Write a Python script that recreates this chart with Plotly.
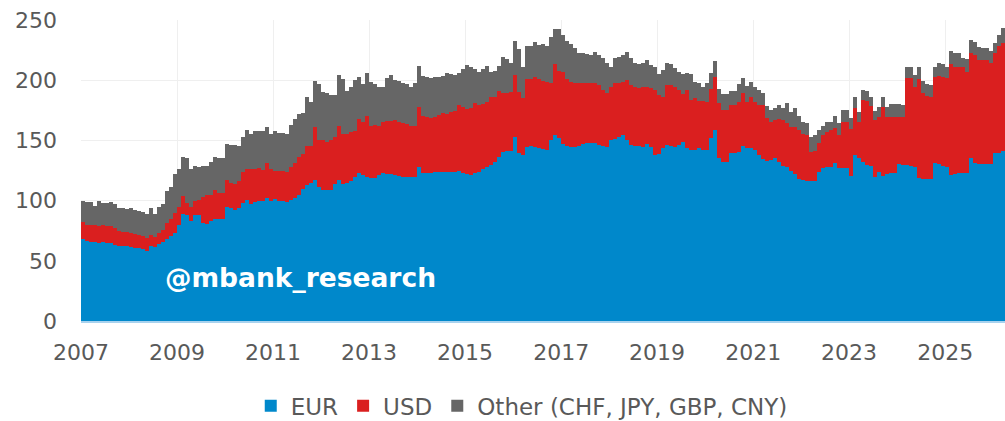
import pandas as pd
import plotly.graph_objects as go

# Monthly stock by currency, January 2007 - March 2026
START = "2007-01-01"

EUR = [
    67.8, 66.5, 66, 65.5, 65, 65.5, 65, 64.5, 63, 62.5, 62, 62, 61.5, 61, 61, 59.7, 58.3, 62, 61.5, 63.7,
    66, 68, 70.5, 73, 79.8, 88.9, 88, 83, 88, 88, 81.8, 80.7, 83, 85, 85, 85, 95, 93.6, 92,
    93.6, 97.8, 100.5, 97, 99, 100, 100, 102, 100, 101, 100, 100, 99, 100.5, 102.5, 105, 110, 113, 114.5, 117,
    111.5, 109, 108.6, 109, 114, 117.5, 114, 114.5, 116, 119.4, 123, 121.5, 119.4, 118.6, 118.6, 121.5, 123, 122, 122,
    121.4, 120.5, 120, 120, 120, 120, 128, 123.3, 122.7, 123.3, 123.8, 124, 124, 124, 124, 124, 124.9, 123.3, 122.2, 121.4,
    122.7, 124, 126, 128.2, 129.6, 132.4, 136.5, 140.7, 141.5, 141.5, 153, 139.8, 137.9, 144.9, 145.4, 144.9, 143.5, 142.7, 142.2,
    150.2, 154.4, 152.4, 146.9, 145.4, 144.9, 144.9, 145.4, 146.9, 147.5, 148, 147.5, 146, 145.4, 144.9, 150.2, 151.5, 152.9, 154.3, 150.7,
    146, 145.4, 145.4, 144.9, 146.9, 144.4, 138, 138.7, 143.6, 146, 145.4, 144.9, 146, 148.8, 143.6, 142.2, 142.2, 143.6, 142.2,
    142, 151.7, 158.7, 135.1, 132.3, 132.3, 139.3, 139.3, 140.7, 145.4, 143.4, 143.4, 142, 137.9, 134.3, 133.2, 133.8, 135.1, 132.3, 128.7,
    127.6, 124.9, 122.1, 117.7, 117.2, 116.6, 116.6, 116.6, 124, 126.8, 127.6, 128.2, 130.9, 126.8, 126.8, 126.8, 120.5, 137.9, 135.1,
    132.4, 129.6, 128.8, 120, 124.1, 120.5, 122.2, 122.7, 122.7, 130.2, 129.6, 129.6, 128.8, 128.2, 118.6, 117.7, 117.7, 117.7,
    131, 130.4, 128.8, 128.2, 121.4, 122.2, 122.7, 122.7, 122.7, 135.2, 131.6, 130.4, 130.4, 130.4, 130.4, 139.3, 139.8, 141.5,
]

USD = [
    14.7, 13.5, 13.5, 14, 14, 14, 14, 14, 14, 12, 12, 12, 12, 11, 10.5, 11.3, 10.4, 9.5, 8.5, 9.2,
    9.7, 13, 14.5, 17, 14.9, 14.9, 10, 11.6, 12, 12.6, 21, 24.3, 22, 24, 21, 21, 22, 21.4, 22,
    22.4, 26.2, 25.5, 29, 27, 27, 25.5, 29, 26, 24, 25, 24.5, 25, 27.5, 28.5, 31.5, 29, 32.4, 30.5, 44,
    38.5, 41, 40.4, 41, 39, 44.5, 41, 40.5, 41, 38.6, 44.6, 43.5, 50.6, 43.4, 44.4, 40.5, 42, 44, 44,
    45.5, 45, 44.2, 43.6, 42, 42, 49.6, 47, 47, 45.7, 45.9, 47, 48.5, 48, 50, 50.8, 54.6, 54.3, 53.8, 55.4,
    58.7, 55.5, 54.3, 54, 56.2, 53.4, 54.9, 48.3, 48.2, 49.1, 51.4, 50.8, 47.1, 55.9, 55.4, 58.1, 57.3, 56.9, 56.6,
    47.8, 58.8, 55.6, 60.1, 55.4, 53.9, 52.6, 52.1, 51.1, 50, 50, 50, 50, 46.6, 44.8, 44.5, 46, 44.6, 44.5, 49.3,
    50, 48.6, 47.9, 49.1, 47.8, 48.9, 54, 49.2, 42.4, 50, 50.6, 49.8, 46, 39.9, 48.4, 41.6, 43, 38.8, 40.2,
    40.2, 40.8, 44.3, 45.7, 43, 43, 40.2, 40.2, 41.5, 43.8, 38.8, 42.4, 40.2, 41.6, 45.2, 35.2, 31.8, 31.9, 35.3, 38.3,
    37.2, 36.6, 38.8, 41, 38.2, 38, 24.1, 24.9, 24.2, 27.8, 29.7, 30.5, 29.2, 27.8, 38.8, 38.8, 38.8, 38.8, 30.5,
    50.9, 52.8, 49.5, 47, 45.1, 57.1, 47.5, 47, 47, 39, 40.1, 72, 72.8, 66, 82.4, 72, 69.4, 68.7,
    72, 73.1, 74.2, 73.4, 92.1, 89.1, 88.6, 88, 84.5, 87.7, 89.4, 86.5, 86.5, 86.5, 84.2, 83.6, 88.5, 89,
]

OTHER = [
    17.5, 18.5, 19, 16, 20.7, 18.5, 19, 20.5, 20, 19.5, 20, 19, 20.5, 20, 20, 19.5, 19.9, 22.5, 19, 21.6,
    21.3, 27, 26, 32, 31.3, 32.2, 37, 31.4, 29, 27.4, 26.2, 24, 27, 27.6, 29, 29, 30, 31, 32,
    29, 29, 33, 29, 32, 31, 32.5, 30, 29.5, 33, 31.5, 31.5, 31.5, 35, 36.6, 35.5, 33.5, 40.4, 37, 38.7,
    47, 40, 40, 38, 35, 42, 46, 36, 37, 42, 35.4, 32, 36, 36.6, 34, 32.5, 29.5, 36, 38,
    33.3, 33.5, 33.3, 33.4, 32.7, 35.5, 34.3, 33.3, 32.8, 32.6, 32.8, 32, 31.1, 34, 31, 29.6, 26.5, 31.4, 37, 34.2,
    27.6, 27.5, 29.3, 29.8, 21.2, 22.2, 20.6, 30, 28.3, 24.1, 28.5, 35.4, 26, 27.7, 27.7, 29, 28.6, 30.4, 29.7,
    37.7, 29.1, 34.3, 30.6, 32.1, 31.2, 29.1, 24.9, 25, 24.3, 23, 26.3, 25, 26.2, 24.4, 16, 20.7, 21.5, 22.2, 23.8,
    22.2, 20.1, 20.2, 20.7, 22.1, 19.4, 19.3, 17.3, 22.6, 18.1, 17.5, 15.2, 15.2, 16.5, 13.8, 21.4, 13.6, 15.1, 12.3,
    15.3, 13.3, 13.3, 11.7, 13.3, 13.3, 11.9, 11.9, 14.7, 12.4, 13, 13, 12.5, 12.4, 10.2, 10.2, 9.7, 9.7, 11.9, 9.7,
    16, 12.4, 15.8, 11.7, 10.2, 10.2, 11.9, 13.1, 10.5, 7.4, 8.3, 6.9, 10.3, 10.2, 9.7, 9.7, 9.1, 9.1, 8.3,
    8.7, 9, 8.1, 7.8, 8.9, 8.2, 7.9, 10.6, 10.6, 11.1, 9.8, 9.7, 9.1, 10.2, 10.3, 10, 9.8, 9.7,
    7.7, 11.1, 10.5, 9.7, 11.1, 11.6, 11.1, 8, 10.2, 10.6, 11.1, 10.5, 9.7, 9.7, 10, 8.4, 9.3, 12.6,
]

SERIES = [
    ("EUR", EUR, "#0088cb"),
    ("USD", USD, "#da1f1f"),
    ("Other (CHF, JPY, GBP, CNY)", OTHER, "#666666"),
]

TICK_YEARS = list(range(2007, 2026, 2))

# each bar covers one full calendar month
edges = pd.date_range(START, periods=len(EUR) + 1, freq="MS")
starts, ends = edges[:-1], edges[1:]
centers = starts + (ends - starts) / 2
widths = [(e - s).total_seconds() * 1000 for s, e in zip(starts, ends)]

TEXT_FAMILY = "DejaVu Sans, Verdana, sans-serif"
TICK_FONT = dict(family=TEXT_FAMILY, size=22, color="#595959")
GRID = "#efefef"

fig = go.Figure()
for name, values, color in SERIES:
    fig.add_trace(go.Bar(
        x=centers, y=values, width=widths, name=name,
        marker=dict(color=color, line=dict(width=0)),
    ))

fig.update_layout(
    width=1005, height=421,
    margin=dict(l=81, r=0, t=20, b=100, autoexpand=False),
    paper_bgcolor="white", plot_bgcolor="white",
    barmode="stack", bargap=0,
    showlegend=True,
    legend=dict(
        orientation="h", traceorder="normal",
        x=0.477, xanchor="center", y=-0.282, yanchor="middle",
        font=dict(family=TEXT_FAMILY, size=23, color="#595959"),
        itemwidth=30,
    ),
    xaxis=dict(
        type="date", automargin=False,
        range=[edges[0], edges[-1]],
        tickvals=[pd.Timestamp(f"{y}-01-01") for y in TICK_YEARS],
        ticktext=[str(y) for y in TICK_YEARS],
        tickfont=TICK_FONT,
        ticks="", ticklabelstandoff=11,
        showgrid=True, gridcolor=GRID, gridwidth=1,
        showline=True, linecolor="#a8d2ee", linewidth=2,
        zeroline=False,
    ),
    yaxis=dict(
        range=[0, 250], dtick=50, automargin=False,
        tickfont=TICK_FONT,
        ticks="", ticklabelstandoff=23,
        showgrid=True, gridcolor=GRID, gridwidth=1,
        zeroline=False, showline=False,
    ),
    annotations=[dict(
        text="@mbank_research",
        xref="paper", yref="paper", x=0.238, y=0.146,
        xanchor="center", yanchor="middle", showarrow=False,
        font=dict(family="DejaVu Sans, Verdana, sans-serif", size=26.5,
                  color="white", weight="bold"),
    )],
)

fig.write_html("out.html")
